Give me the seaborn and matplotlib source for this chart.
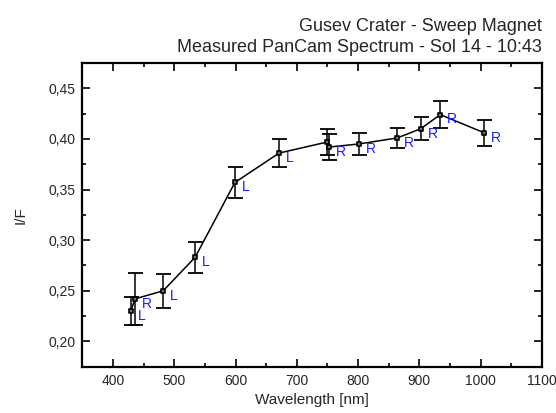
import numpy as np
import pandas as pd
import seaborn as sns
import matplotlib
matplotlib.use("Agg")
import matplotlib.pyplot as plt
from matplotlib.ticker import MultipleLocator, FuncFormatter

# PanCam filter wavelengths (nm), I/F and error, left/right eye
wavelength = [429, 436, 482, 534, 599, 671, 750, 753, 801, 864, 902, 934, 1006]
i_over_f = [0.230, 0.242, 0.250, 0.283, 0.357, 0.386, 0.397, 0.392, 0.395,
            0.401, 0.410, 0.424, 0.406]
i_err = [0.014, 0.026, 0.017, 0.0155, 0.0155, 0.014, 0.0125, 0.0125, 0.011,
         0.010, 0.0115, 0.0135, 0.0125]
eye = ["L", "R", "L", "L", "L", "L", "", "R", "R", "R", "R", "R", "R"]

df = pd.DataFrame({"wl": wavelength, "if": i_over_f, "err": i_err, "eye": eye})

sns.set_style("ticks")
plt.rcParams["font.family"] = ["Liberation Sans", "DejaVu Sans"]

fig = plt.figure(figsize=(5.56, 4.13), dpi=100)
ax = fig.add_axes([82.3 / 556, 1 - 366.7 / 413, (542 - 82.3) / 556, (366.7 - 63) / 413])

ax.errorbar(df["wl"], df["if"], yerr=df["err"], fmt="none", ecolor="black",
            elinewidth=1.1, capsize=5.4, capthick=1.3, zorder=2)
sns.lineplot(data=df, x="wl", y="if", color="black", linewidth=1.1,
             estimator=None, sort=True, ax=ax, zorder=3)
sns.scatterplot(data=df, x="wl", y="if", marker="s", s=9, color="#777777",
                edgecolor="black", linewidth=1.2, ax=ax, zorder=4)

for _, r in df.iterrows():
    if r["eye"]:
        ax.annotate(r["eye"], (r["wl"], r["if"]), xytext=(5, -3.5),
                    textcoords="offset points", ha="left", va="center",
                    color="#1a1aff", fontsize=10)

ax.set_xlim(350, 1100)
ax.set_ylim(0.175, 0.475)
ax.xaxis.set_major_locator(MultipleLocator(100))
ax.xaxis.set_minor_locator(MultipleLocator(50))
ax.yaxis.set_major_locator(MultipleLocator(0.05))
ax.yaxis.set_minor_locator(MultipleLocator(0.025))
ax.yaxis.set_major_formatter(FuncFormatter(lambda v, p: f"{v:.2f}".replace(".", ",")))
ax.tick_params(which="both", direction="in", top=True, right=True,
               labeltop=False, labelright=False, color="black", width=1.2)
ax.tick_params(which="major", length=6, labelsize=10, pad=5)
ax.tick_params(which="minor", length=3)
for s in ax.spines.values():
    s.set_linewidth(1.6)
    s.set_color("black")

ax.set_xlabel("Wavelength [nm]", fontsize=11, labelpad=4)
ax.set_ylabel("I/F", fontsize=11, labelpad=15)

fig.text(542 / 556, 1 - 31 / 413, "Gusev Crater - Sweep Magnet",
         ha="right", va="baseline", fontsize=13)
fig.text(542 / 556, 1 - 52.3 / 413, "Measured PanCam Spectrum - Sol 14 - 10:43",
         ha="right", va="baseline", fontsize=13)

fig.savefig("out.png", dpi=100)
